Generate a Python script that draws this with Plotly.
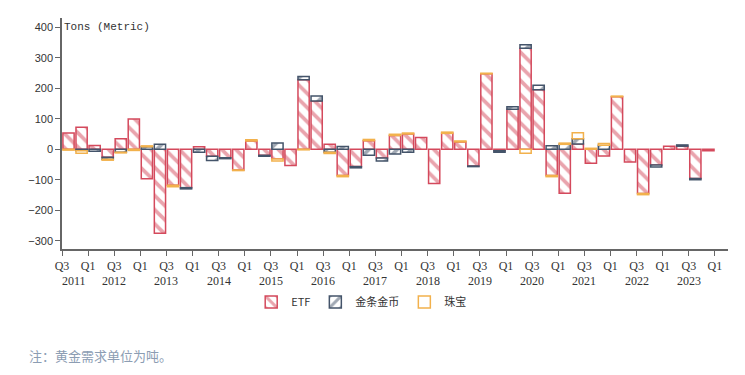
import plotly.graph_objects as go

quarters = [f"{y}Q{q}" for y in range(2011, 2024) for q in (1, 2, 3, 4)][2:]  # 2011Q3 .. 2023Q4

etf = [53, 72, 12, -26, 34, 99, -97, -275, -118, -126,
       8, -23, -28, -68, 27, -20, -32, -53, 228, 158,
       16, -86, -57, 28, -29, 45, 50, 38, -112, 52,
       24, -55, 247, -5, 131, 331, 195, -86, -144, 17,
       -46, -22, 172, -42, -145, -52, 10, 10, -96, -5]

coins = [0, -5, -7, -7, -10, 0, 8, 16, 0, -4,
         -10, -14, -3, 0, 0, -3, 20, 0, 10, 16,
         -10, 9, -4, -20, -10, -16, -10, 0, 0, 0,
         0, -2, 0, -5, 8, 11, 15, 11, 16, 17,
         0, 13, 0, 0, 0, -6, 0, 4, -4, 0]

jewelry = [-3, -8, 0, -3, -2, -4, 3, 0, -5, 0,
           0, 0, 0, -2, 4, 0, -7, 0, -2, 0,
           -4, -4, 0, 4, 0, 4, 3, 0, 0, 4,
           3, 0, 2, 0, 0, -13, 0, -4, 4, 20,
           3, 6, 2, 0, -4, 0, 0, 0, 0, 0]

tick_text = ["Q3", "Q1"] * 13
year_labels = [str(y) for y in range(2011, 2024)]
year_tick_index = [0.45] + [3.5 + 4 * k for k in range(12)]

series_names = ["ETF", "金条金币", "珠宝"]
series_colors = ["#d4495c", "#44546a", "#f2b14c"]
series_shapes = ["\\", "/", ""]

x = list(range(len(quarters)))

fig = go.Figure()
for name, vals, col, shp in zip(series_names, [etf, coins, jewelry], series_colors, series_shapes):
    fig.add_trace(go.Bar(
        x=x, y=[v if v != 0 else None for v in vals], name=name, width=0.86,
        marker=dict(
            color="white",
            line=dict(color=col, width=1.5),
            pattern=dict(shape=shp, fgcolor=col, bgcolor="white", size=10, solidity=0.38),
        ),
        hovertext=quarters,
    ))

tickvals = [i - 0.5 for i in range(0, len(quarters) + 1, 2)]

fig.update_layout(
    width=737, height=367,
    barmode="relative",
    plot_bgcolor="white", paper_bgcolor="white",
    margin=dict(l=54, r=17, t=10, b=126),
    font=dict(family="Liberation Sans", size=11, color="#333333"),
    showlegend=True,
    legend=dict(
        orientation="h", x=0.45, xanchor="center", y=-0.229, yanchor="middle",
        font=dict(family="Noto Sans CJK SC", size=11, color="#333333"),
        itemwidth=30, tracegroupgap=0, bgcolor="rgba(0,0,0,0)",
    ),
    xaxis=dict(
        range=[-0.5, 50.5], showgrid=False, zeroline=False,
        showline=True, linecolor="#666666", linewidth=1.5,
        ticks="outside", ticklen=5, tickcolor="#666666",
        tickmode="array", tickvals=tickvals, ticktext=tick_text,
        tickfont=dict(family="Liberation Serif", size=12, color="#333333"),
    ),
    yaxis=dict(
        range=[-327, 430], showgrid=False, zeroline=False,
        showline=True, linecolor="#666666", linewidth=1.5,
        ticks="outside", ticklen=5, tickcolor="#666666",
        tickvals=[-300, -200, -100, 0, 100, 200, 300, 400],
        tickfont=dict(family="Liberation Sans", size=11, color="#333333"),
    ),
)

for yl, xi in zip(year_labels, year_tick_index):
    fig.add_annotation(x=xi, y=0, xref="x", yref="paper", text=yl, showarrow=False,
                       yanchor="middle", yshift=-32,
                       font=dict(family="Liberation Serif", size=12, color="#333333"))

fig.add_annotation(x=0, y=0.961, xref="paper", yref="paper", text="Tons (Metric)",
                   showarrow=False, xanchor="left", yanchor="middle",
                   font=dict(family="Liberation Mono", size=11, color="#333333"))

fig.add_annotation(x=-0.052, y=0, xref="paper", yref="paper", text="注：黄金需求单位为吨。",
                   showarrow=False, xanchor="left", yanchor="middle", yshift=-106,
                   font=dict(family="Noto Sans CJK SC", size=13, color="#8c9db3"))

fig.write_html("out.html")
